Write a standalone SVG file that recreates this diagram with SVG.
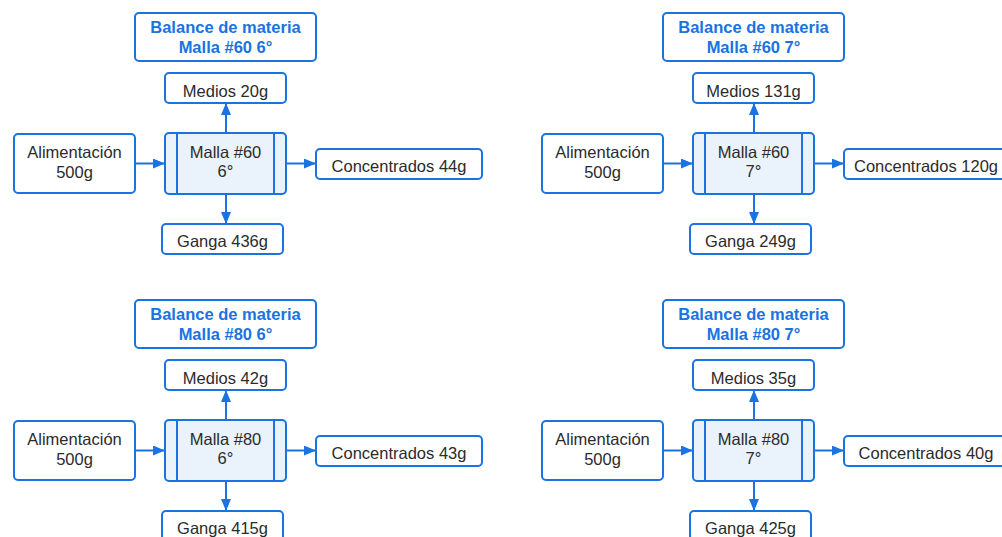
<svg xmlns="http://www.w3.org/2000/svg" width="1002" height="537" viewBox="0 0 1002 537">
<defs>
<style>
.box{fill:#ffffff;stroke:#1a73e0;stroke-width:2}
.proc{fill:#eaf2fc;stroke:#1a73e0;stroke-width:2}
.div{stroke:#1a73e0;stroke-width:2;fill:none}
.t{font-family:"Liberation Sans",Arial,sans-serif;font-size:16.5px;fill:#2b2b2b;text-anchor:middle}
.title{font-family:"Liberation Sans",Arial,sans-serif;font-size:16.5px;font-weight:bold;fill:#1a73e0;text-anchor:middle}
.conn{stroke:#1a73e0;stroke-width:2;fill:none;marker-end:url(#ah)}
</style>
<marker id="ah" viewBox="0 0 12 10" refX="12" refY="5" markerWidth="12" markerHeight="10" markerUnits="userSpaceOnUse" orient="auto">
<path d="M0,0 L12,5 L0,10 Z" fill="#1a73e0"/>
</marker>
</defs>
<rect width="1002" height="537" fill="#ffffff"/>

<!-- Quadrant 1: Malla #60 6° -->
<g transform="translate(0,0)">
<g id="connectors-60-6">
<line class="conn" x1="135" y1="163.5" x2="165" y2="163.5"/>
<line class="conn" x1="226" y1="133" x2="226" y2="103"/>
<line class="conn" x1="286" y1="163.5" x2="316" y2="163.5"/>
<line class="conn" x1="226" y1="194" x2="226" y2="224"/>
</g>
<g id="title-60-6"><rect class="box" x="135" y="13" width="181" height="48" rx="4"/><text class="title" x="225.5" y="32.5">Balance de materia</text><text class="title" x="225.5" y="52.5">Malla #60 6°</text></g>
<g id="medios-60-6"><rect class="box" x="165" y="73" width="121" height="30" rx="4"/><text class="t" x="225.5" y="96.5">Medios 20g</text></g>
<g id="alim-60-6"><rect class="box" x="14" y="134" width="121" height="59" rx="4"/><text class="t" x="74.5" y="158">Alimentación</text><text class="t" x="74.5" y="178">500g</text></g>
<g id="malla-60-6"><rect class="proc" x="165" y="133" width="121" height="61" rx="4"/><line class="div" x1="177" y1="133" x2="177" y2="194"/><line class="div" x1="274" y1="133" x2="274" y2="194"/><text class="t" x="225.5" y="157.5">Malla #60</text><text class="t" x="225.5" y="177">6°</text></g>
<g id="conc-60-6"><rect class="box" x="316" y="149" width="166" height="30" rx="4"/><text class="t" x="399" y="171.5">Concentrados 44g</text></g>
<g id="ganga-60-6"><rect class="box" x="162" y="224" width="121" height="30" rx="4"/><text class="t" x="222.5" y="247">Ganga 436g</text></g>
</g>

<!-- Quadrant 2: Malla #60 7° -->
<g transform="translate(528,0)">
<g id="connectors-60-7">
<line class="conn" x1="135" y1="163.5" x2="165" y2="163.5"/>
<line class="conn" x1="226" y1="133" x2="226" y2="103"/>
<line class="conn" x1="286" y1="163.5" x2="316" y2="163.5"/>
<line class="conn" x1="226" y1="194" x2="226" y2="224"/>
</g>
<g id="title-60-7"><rect class="box" x="135" y="13" width="181" height="48" rx="4"/><text class="title" x="225.5" y="32.5">Balance de materia</text><text class="title" x="225.5" y="52.5">Malla #60 7°</text></g>
<g id="medios-60-7"><rect class="box" x="165" y="73" width="121" height="30" rx="4"/><text class="t" x="225.5" y="96.5">Medios 131g</text></g>
<g id="alim-60-7"><rect class="box" x="14" y="134" width="121" height="59" rx="4"/><text class="t" x="74.5" y="158">Alimentación</text><text class="t" x="74.5" y="178">500g</text></g>
<g id="malla-60-7"><rect class="proc" x="165" y="133" width="121" height="61" rx="4"/><line class="div" x1="177" y1="133" x2="177" y2="194"/><line class="div" x1="274" y1="133" x2="274" y2="194"/><text class="t" x="225.5" y="157.5">Malla #60</text><text class="t" x="225.5" y="177">7°</text></g>
<g id="conc-60-7"><rect class="box" x="316" y="149" width="166" height="30" rx="4"/><text class="t" x="398" y="171.5">Concentrados 120g</text></g>
<g id="ganga-60-7"><rect class="box" x="162" y="224" width="121" height="30" rx="4"/><text class="t" x="222.5" y="247">Ganga 249g</text></g>
</g>

<!-- Quadrant 3: Malla #80 6° -->
<g transform="translate(0,287)">
<g id="connectors-80-6">
<line class="conn" x1="135" y1="163.5" x2="165" y2="163.5"/>
<line class="conn" x1="226" y1="133" x2="226" y2="103"/>
<line class="conn" x1="286" y1="163.5" x2="316" y2="163.5"/>
<line class="conn" x1="226" y1="194" x2="226" y2="224"/>
</g>
<g id="title-80-6"><rect class="box" x="135" y="13" width="181" height="48" rx="4"/><text class="title" x="225.5" y="32.5">Balance de materia</text><text class="title" x="225.5" y="52.5">Malla #80 6°</text></g>
<g id="medios-80-6"><rect class="box" x="165" y="73" width="121" height="30" rx="4"/><text class="t" x="225.5" y="96.5">Medios 42g</text></g>
<g id="alim-80-6"><rect class="box" x="14" y="134" width="121" height="59" rx="4"/><text class="t" x="74.5" y="158">Alimentación</text><text class="t" x="74.5" y="178">500g</text></g>
<g id="malla-80-6"><rect class="proc" x="165" y="133" width="121" height="61" rx="4"/><line class="div" x1="177" y1="133" x2="177" y2="194"/><line class="div" x1="274" y1="133" x2="274" y2="194"/><text class="t" x="225.5" y="157.5">Malla #80</text><text class="t" x="225.5" y="177">6°</text></g>
<g id="conc-80-6"><rect class="box" x="316" y="149" width="166" height="30" rx="4"/><text class="t" x="399" y="171.5">Concentrados 43g</text></g>
<g id="ganga-80-6"><rect class="box" x="162" y="224" width="121" height="30" rx="4"/><text class="t" x="222.5" y="247">Ganga 415g</text></g>
</g>

<!-- Quadrant 4: Malla #80 7° -->
<g transform="translate(528,287)">
<g id="connectors-80-7">
<line class="conn" x1="135" y1="163.5" x2="165" y2="163.5"/>
<line class="conn" x1="226" y1="133" x2="226" y2="103"/>
<line class="conn" x1="286" y1="163.5" x2="316" y2="163.5"/>
<line class="conn" x1="226" y1="194" x2="226" y2="224"/>
</g>
<g id="title-80-7"><rect class="box" x="135" y="13" width="181" height="48" rx="4"/><text class="title" x="225.5" y="32.5">Balance de materia</text><text class="title" x="225.5" y="52.5">Malla #80 7°</text></g>
<g id="medios-80-7"><rect class="box" x="165" y="73" width="121" height="30" rx="4"/><text class="t" x="225.5" y="96.5">Medios 35g</text></g>
<g id="alim-80-7"><rect class="box" x="14" y="134" width="121" height="59" rx="4"/><text class="t" x="74.5" y="158">Alimentación</text><text class="t" x="74.5" y="178">500g</text></g>
<g id="malla-80-7"><rect class="proc" x="165" y="133" width="121" height="61" rx="4"/><line class="div" x1="177" y1="133" x2="177" y2="194"/><line class="div" x1="274" y1="133" x2="274" y2="194"/><text class="t" x="225.5" y="157.5">Malla #80</text><text class="t" x="225.5" y="177">7°</text></g>
<g id="conc-80-7"><rect class="box" x="316" y="149" width="166" height="30" rx="4"/><text class="t" x="398" y="171.5">Concentrados 40g</text></g>
<g id="ganga-80-7"><rect class="box" x="162" y="224" width="121" height="30" rx="4"/><text class="t" x="222.5" y="247">Ganga 425g</text></g>
</g>
</svg>
